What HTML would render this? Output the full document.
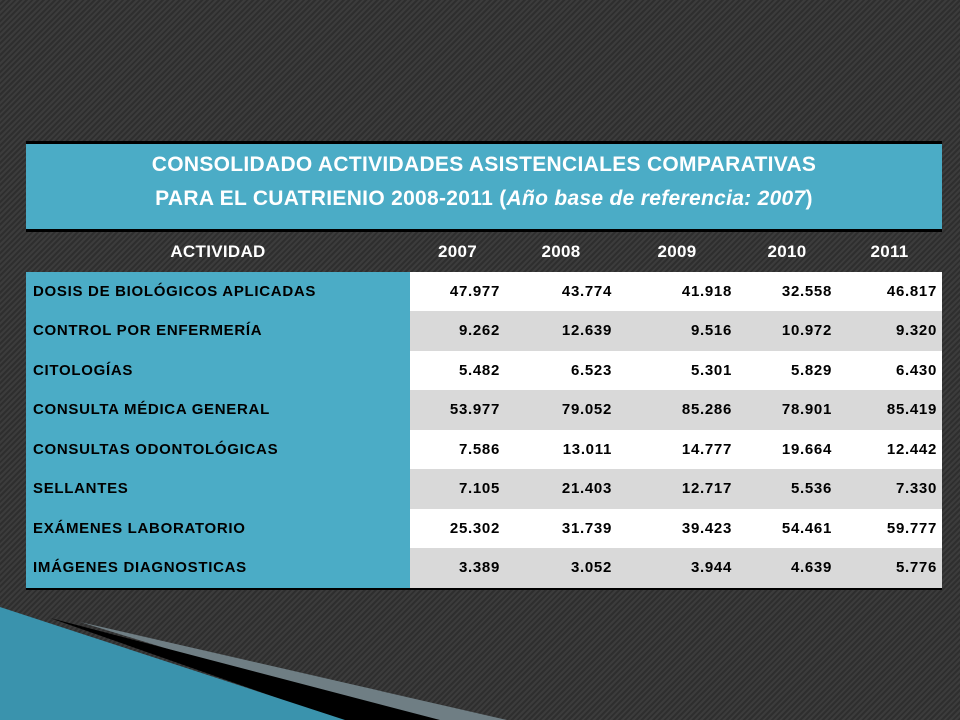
<!DOCTYPE html>
<html><head><meta charset="utf-8"><style>
body{margin:0;width:960px;height:720px;overflow:hidden;position:relative;font-family:"Liberation Sans",sans-serif;
background:#363636 repeating-linear-gradient(135deg,#3c3c3c 0 2px,#2e2e2e 2px 4px);}
#deco{position:absolute;left:0;top:0}
#tbl{position:absolute;left:26px;top:141px;width:916px;}
.title{background:#4bacc6;border-top:3px solid #000;border-bottom:3px solid #000;color:#fff;font-weight:bold;font-size:21px;letter-spacing:0.3px;text-align:center;line-height:34px;padding-top:4px;box-sizing:border-box;height:91px}
.hdr,.row{display:flex;height:39.5px;align-items:center;font-weight:bold;font-size:15px;letter-spacing:0.7px}
.hdr{color:#fff;font-size:17px;letter-spacing:0.3px}
.c0{width:384px;padding-left:7px;box-sizing:border-box;height:100%;display:flex;align-items:center}
.hdr .c0{justify-content:center;padding:0}
.n{height:100%;display:flex;align-items:center;justify-content:flex-end;padding-right:5px;box-sizing:border-box}
.hdr .n{justify-content:center;padding:0}
.row .c0{background:#4bacc6;color:#000}
.row.w .n{background:#fff}.row.g .n{background:#d9d9d9}
.row:last-child{border-bottom:2px solid #000}
</style></head><body>
<svg id="deco" width="960" height="720">
<polygon points="80,622 507,720 400,720" fill="#6f7e84"/>
<polygon points="50,618 440,720 340,720" fill="#000"/>
<polygon points="0,607 345,720 0,720" fill="#3a93ad"/>
</svg>
<div id="tbl">
<div class="title">CONSOLIDADO ACTIVIDADES ASISTENCIALES COMPARATIVAS<br>PARA EL CUATRIENIO 2008-2011 (<i>Año base de referencia: 2007</i>)</div>
<div class="hdr">
<div class="c0">ACTIVIDAD</div><div class="n" style="width:95px">2007</div><div class="n" style="width:112px">2008</div><div class="n" style="width:120px">2009</div><div class="n" style="width:100px">2010</div><div class="n" style="width:105px">2011</div></div>
<div id="body"></div>
</div>
<script>
const labels=["DOSIS DE BIOLÓGICOS APLICADAS","CONTROL POR ENFERMERÍA","CITOLOGÍAS","CONSULTA MÉDICA GENERAL","CONSULTAS ODONTOLÓGICAS","SELLANTES","EXÁMENES LABORATORIO","IMÁGENES DIAGNOSTICAS"];
const v2007=["47.977","9.262","5.482","53.977","7.586","7.105","25.302","3.389"];
const v2008=["43.774","12.639","6.523","79.052","13.011","21.403","31.739","3.052"];
const v2009=["41.918","9.516","5.301","85.286","14.777","12.717","39.423","3.944"];
const v2010=["32.558","10.972","5.829","78.901","19.664","5.536","54.461","4.639"];
const v2011=["46.817","9.320","6.430","85.419","12.442","7.330","59.777","5.776"];
const widths=[95,112,120,100,105];
const body=document.getElementById('body');
labels.forEach((l,i)=>{
 const r=document.createElement('div');r.className='row '+(i%2?'g':'w');
 
 
 const c=document.createElement('div');c.className='c0';c.textContent=l;
 
 
 r.appendChild(c);
 [v2007,v2008,v2009,v2010,v2011].forEach((s,j)=>{
  const d=document.createElement('div');d.className='n';d.style.width=widths[j]+'px';d.textContent=s[i];
  
  
  r.appendChild(d);});
 body.appendChild(r);});
</script>
</body></html>
